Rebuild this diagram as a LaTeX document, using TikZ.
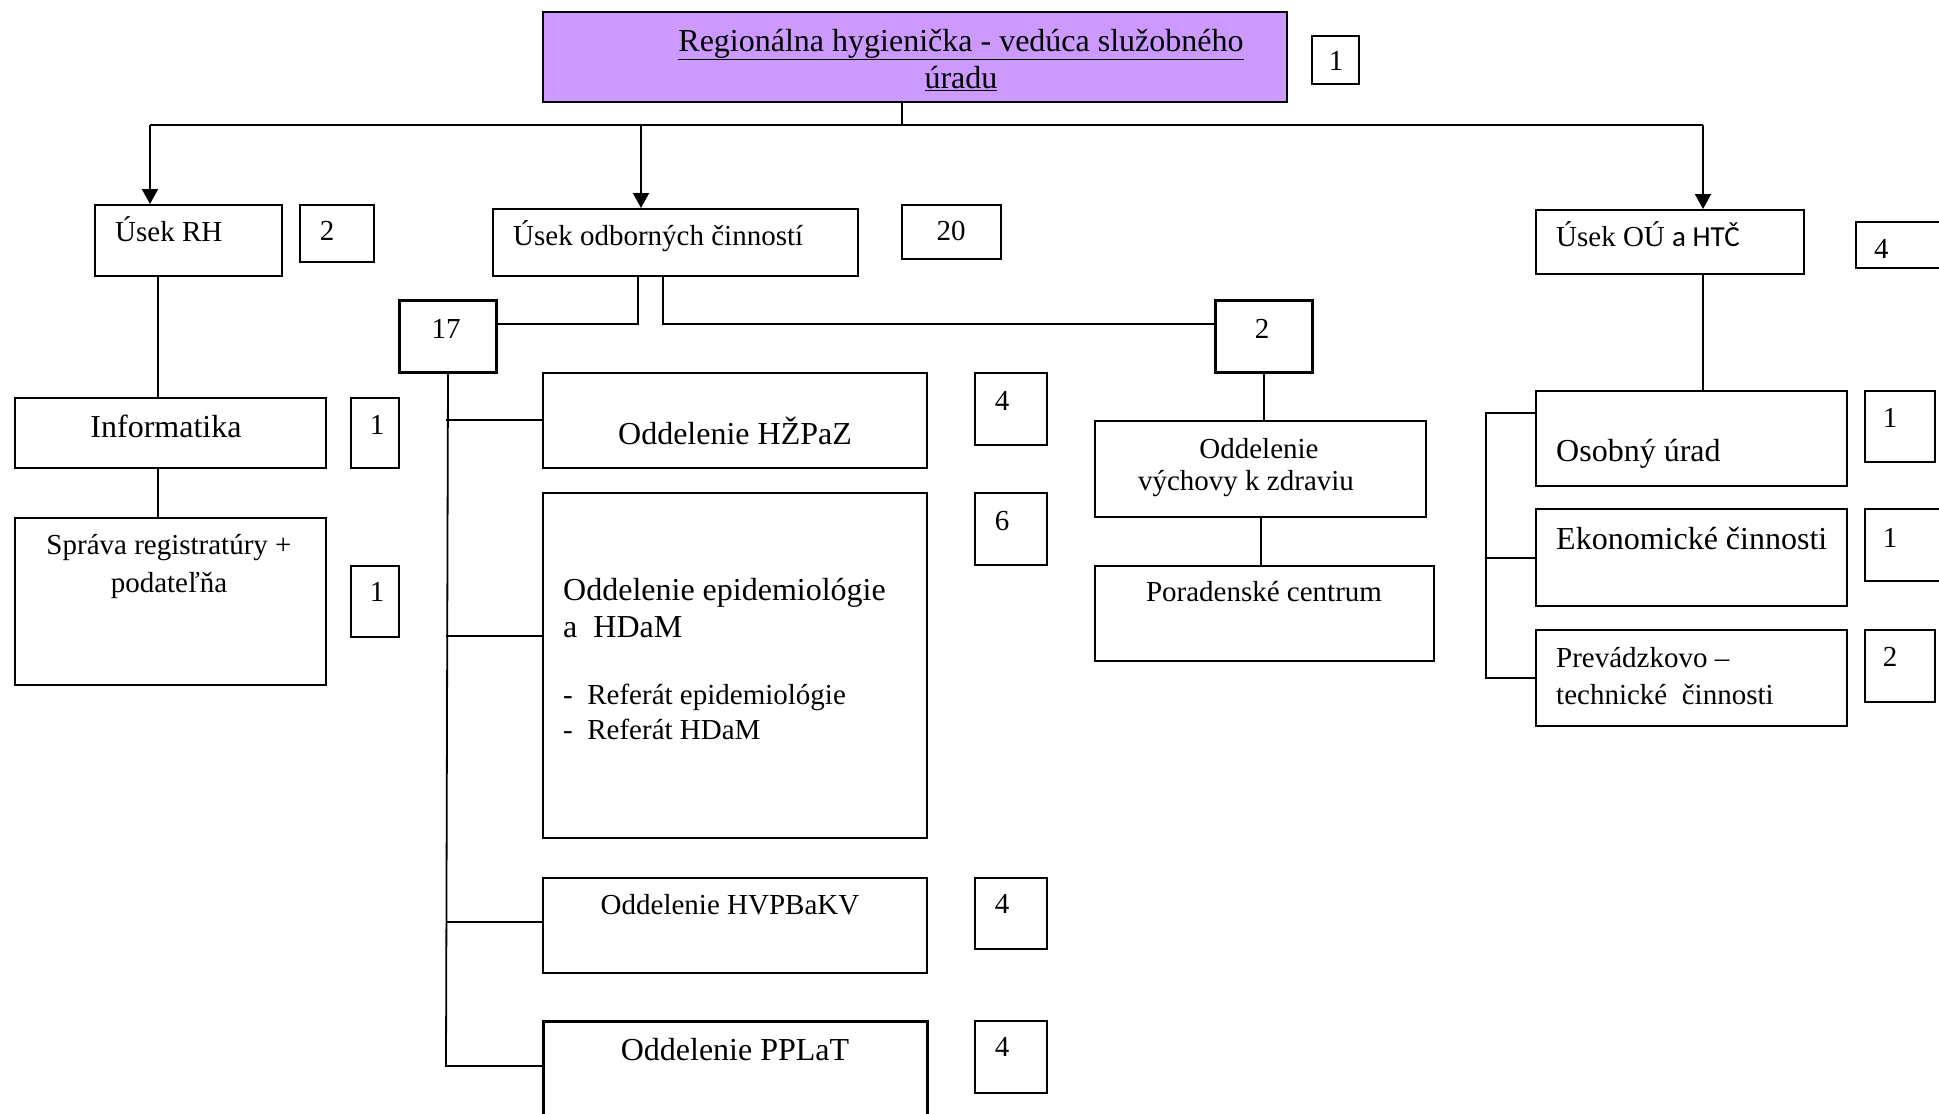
\documentclass[tikz,border=0pt]{standalone}
\usepackage{fontspec}
\setmainfont{Liberation Serif}
\newfontfamily\calib{Carlito}
\usetikzlibrary{arrows.meta}
\definecolor{lilac}{HTML}{CC99FF}
\newcommand\nrm{\fontsize{29}{38}\selectfont}
\newcommand\lrg{\fontsize{32}{37}\selectfont}
\newcommand\bx[6][]{\node[box,#1,minimum width={#4-#2},minimum height={#5-#3}] (#6) at (#2,#3) {};}
\begin{document}
\begin{tikzpicture}[x=1pt,y=-1pt,
  box/.style={draw,line width=1.8pt,rectangle,inner sep=0pt,anchor=north west},
  thick box/.style={line width=3pt},
  txt/.style={inner sep=0pt,font=\nrm},
  big/.style={inner sep=0pt,font=\lrg},
  conn/.style={line width=1.8pt},
  arr/.style={line width=2pt,-{Triangle[length=15pt,width=16pt]}}]
\useasboundingbox[fill=white] (0,0) rectangle (1939,1114);
% boxes
\bx[fill=lilac]{542}{11}{1286}{101}{top}
\bx{1311}{35}{1358}{83}{n1}
\bx{94}{204}{281}{275}{rh}
\bx{299}{204}{373}{261}{nrh}
\bx{492}{208}{857}{275}{odb}
\bx{901}{204}{1000}{258}{nodb}
\bx{1535}{209}{1803}{273}{ou}
\bx{1855}{221}{1950}{267}{nou}
\bx{14}{397}{325}{467}{inf}
\bx{350}{397}{398}{467}{ninf}
\bx{14}{517}{325}{684}{spr}
\bx{350}{565}{398}{636}{nspr}
\bx[thick box]{398}{299}{495}{371}{n17}
\bx[thick box]{1214}{299}{1311}{371}{n2}
\bx{542}{372}{926}{467}{hzp}
\bx{974}{372}{1046}{444}{nhzp}
\bx{542}{492}{926}{837}{epi}
\bx{974}{492}{1046}{564}{nepi}
\bx{542}{877}{926}{972}{hvp}
\bx{974}{877}{1046}{948}{nhvp}
\bx[thick box]{542}{1020}{926}{1130}{ppl}
\bx{974}{1020}{1046}{1092}{nppl}
\bx{1094}{420}{1425}{516}{vych}
\bx{1094}{565}{1433}{660}{por}
\bx{1535}{390}{1846}{485}{os}
\bx{1864}{390}{1934}{461}{nos}
\bx{1535}{508}{1846}{605}{eko}
\bx{1864}{508}{1950}{580}{neko}
\bx{1535}{629}{1846}{725}{pre}
\bx{1864}{629}{1934}{701}{npre}
% texts
\node[big,anchor=base] (t-top1) at (961,51) {\underline{Regionálna hygienička - vedúca služobného}};
\node[big,anchor=base] (t-top2) at (961,88) {\underline{úradu}};
\node[txt] (t-n1) at (1336,61) {1};
\node[txt,anchor=base west] (t-rh) at (115,241) {Úsek RH};
\node[txt] (t-nrh) at (327,231) {2};
\node[txt,anchor=base west] (t-odb) at (513,245) {Úsek odborných činností};
\node[txt] (t-nodb) at (951,231) {20};
\node[txt,anchor=base west] (t-ou) at (1556,246) {Úsek OÚ {\calib a HTČ}};
\node[txt,anchor=west] (t-nou) at (1874,249) {4};
\node[big,anchor=base] (t-inf) at (166,437) {Informatika};
\node[txt] (t-ninf) at (377,425) {1};
\node[txt,anchor=base] (t-spr1) at (169,554) {Správa registratúry +};
\node[txt,anchor=base] (t-spr2) at (169,592) {podateľňa};
\node[txt] (t-nspr) at (377,592) {1};
\node[txt] (t-n17) at (446,329) {17};
\node[txt] (t-n2) at (1262,329) {2};
\node[big,anchor=base] (t-hzp) at (735,444) {Oddelenie HŽPaZ};
\node[txt] (t-nhzp) at (1002,401) {4};
\node[big,anchor=base west] (t-epi1) at (563,600) {Oddelenie epidemiológie};
\node[big,anchor=base west] (t-epi2) at (563,637) {a\ \ HDaM};
\node[txt,anchor=base west] (t-epi3) at (563,704) {-\ \ Referát epidemiológie};
\node[txt,anchor=base west] (t-epi4) at (563,739) {-\ \ Referát HDaM};
\node[txt] (t-nepi) at (1002,521) {6};
\node[txt,anchor=base] (t-hvp) at (730,914) {Oddelenie HVPBaKV};
\node[txt] (t-nhvp) at (1002,904) {4};
\node[big,anchor=base] (t-ppl) at (735,1060) {Oddelenie PPLaT};
\node[txt] (t-nppl) at (1002,1047) {4};
\node[txt,anchor=base] (t-vych1) at (1259,458) {Oddelenie};
\node[txt,anchor=base] (t-vych2) at (1246,490) {výchovy k zdraviu};
\node[txt,anchor=base] (t-por) at (1264,601) {Poradenské centrum};
\node[big,anchor=base west] (t-os) at (1556,461) {Osobný úrad};
\node[txt] (t-nos) at (1890,418) {1};
\node[big,anchor=base west] (t-eko) at (1556,549) {Ekonomické činnosti};
\node[txt] (t-neko) at (1890,538) {1};
\node[txt,anchor=base west] (t-pre1) at (1556,667) {Prevádzkovo –};
\node[txt,anchor=base west] (t-pre2) at (1556,704) {technické\ \ činnosti};
\node[txt] (t-npre) at (1890,657) {2};
% connectors
\coordinate (bus) at (902,125);
\coordinate (bL) at (150,125);
\coordinate (bM) at (641,125);
\coordinate (bR) at (1703,125);
\draw[conn] (top.south -| bus) -- (bus);
\draw[conn] (bL) -- (bR);
\draw[arr] (bL) -- (bL |- rh.north);
\draw[arr] (bM) -- (bM |- odb.north);
\draw[arr] (bR) -- (bR |- ou.north);
% left column
\coordinate (lc) at (158,0);
\draw[conn] (lc |- rh.south) -- (lc |- inf.north);
\draw[conn] (lc |- inf.south) -- (lc |- spr.north);
% middle split
\coordinate (s1) at (638,324);
\coordinate (s2) at (663,324);
\draw[conn] (s1 |- odb.south) -- (s1) -- (s1 -| n17.east);
\draw[conn] (s2 |- odb.south) -- (s2) -- (s2 -| n2.west);
% 17 trunk
\coordinate (b1) at (446,420);
\coordinate (b2) at (446,636);
\coordinate (b3) at (446,922);
\coordinate (b4) at (446,1066);
\draw[conn] (n17.south) -- (b4) -- (b4 -| ppl.west);
\draw[conn] (b1) -- (b1 -| hzp.west);
\draw[conn] (b2) -- (b2 -| epi.west);
\draw[conn] (b3) -- (b3 -| hvp.west);
% right-middle
\draw[conn] (n2.south) -- (n2.south |- vych.north);
\coordinate (rm) at (1261,0);
\draw[conn] (rm |- vych.south) -- (rm |- por.north);
% right column
\draw[conn] (bR |- ou.south) -- (bR |- os.north);
\coordinate (r1) at (1486,413);
\coordinate (r2) at (1486,558);
\coordinate (r3) at (1486,678);
\draw[conn] (r1 -| os.west) -- (r1) -- (r3) -- (r3 -| pre.west);
\draw[conn] (r2) -- (r2 -| eko.west);
\end{tikzpicture}
\end{document}
